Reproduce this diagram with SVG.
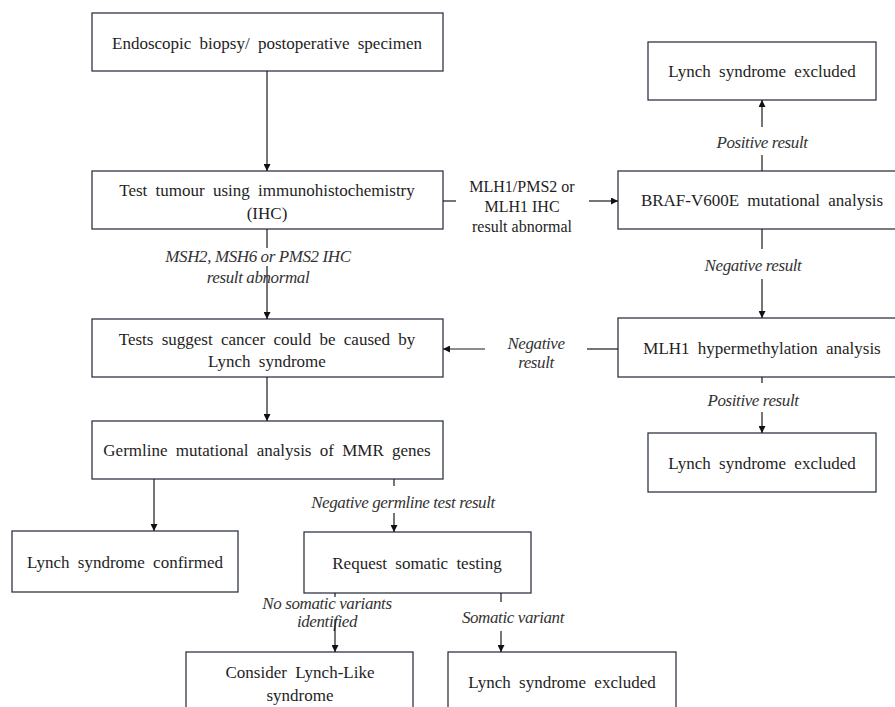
<svg xmlns="http://www.w3.org/2000/svg" width="895" height="707" viewBox="0 0 895 707">
<style>
.box{fill:#fff;stroke:#2e3645;stroke-width:1.3}
.t{font-family:'Liberation Serif','Tinos','DejaVu Serif','Noto Serif',serif;font-size:17px;fill:#1e1e1e;text-anchor:middle;word-spacing:4px}
.l{font-family:'Liberation Serif','Tinos','DejaVu Serif','Noto Serif',serif;font-size:16px;fill:#1e1e1e;text-anchor:middle}
.i{font-family:'Liberation Serif','Tinos','DejaVu Serif','Noto Serif',serif;font-size:17px;font-style:italic;fill:#333;text-anchor:middle;letter-spacing:-0.4px}
.c line{stroke:#1a1a1a;stroke-width:1.2}
</style>
<defs>
<marker id="ah" viewBox="0 0 10 10" refX="10" refY="5" markerWidth="7" markerHeight="7" markerUnits="userSpaceOnUse" orient="auto">
<path d="M0,0 L10,5 L0,10 z" fill="#111"/>
</marker>
</defs>
<rect width="895" height="707" fill="#fff"/>
<g id="n1"><rect class="box" x="92" y="13" width="351" height="58"/><text class="t" x="267" y="49">Endoscopic biopsy/ postoperative specimen</text></g>
<g id="n2"><rect class="box" x="92" y="171" width="351" height="58"/><text class="t" x="267" y="196">Test tumour using immunohistochemistry</text><text class="t" x="267" y="219">(IHC)</text></g>
<g id="n3"><rect class="box" x="92" y="319" width="351" height="58"/><text class="t" x="267" y="345">Tests suggest cancer could be caused by</text><text class="t" x="267" y="367">Lynch syndrome</text></g>
<g id="n4"><rect class="box" x="92" y="421" width="351" height="58"/><text class="t" x="267" y="456">Germline mutational analysis of MMR genes</text></g>
<g id="n5"><rect class="box" x="12" y="531" width="226" height="61"/><text class="t" x="125" y="568">Lynch syndrome confirmed</text></g>
<g id="n6"><rect class="box" x="304" y="532" width="227" height="61"/><text class="t" x="417" y="569">Request somatic testing</text></g>
<g id="n7"><rect class="box" x="186" y="652" width="227" height="60"/><text class="t" x="300" y="678">Consider Lynch-Like</text><text class="t" x="300" y="701">syndrome</text></g>
<g id="n8"><rect class="box" x="448" y="652" width="228" height="60"/><text class="t" x="562" y="688">Lynch syndrome excluded</text></g>
<g id="n9"><rect class="box" x="648" y="42" width="228" height="58"/><text class="t" x="762" y="77">Lynch syndrome excluded</text></g>
<g id="n10"><rect class="box" x="618" y="171" width="280" height="58"/><text class="t" x="762" y="206">BRAF-V600E mutational analysis</text></g>
<g id="n11"><rect class="box" x="618" y="318" width="280" height="59"/><text class="t" x="762" y="354">MLH1 hypermethylation analysis</text></g>
<g id="n12"><rect class="box" x="648" y="433" width="228" height="59"/><text class="t" x="762" y="469">Lynch syndrome excluded</text></g>
<g id="labels">
<text class="l" x="522" y="192">MLH1/PMS2 or</text>
<text class="l" x="522" y="212">MLH1 IHC</text>
<text class="l" x="522" y="232">result abnormal</text>
<text class="i" x="258" y="262">MSH2, MSH6 or PMS2 IHC</text>
<text class="i" x="258" y="283">result abnormal</text>
<text class="i" x="762" y="148">Positive result</text>
<text class="i" x="753" y="271">Negative result</text>
<text class="i" x="536" y="349">Negative</text>
<text class="i" x="536" y="368">result</text>
<text class="i" x="753" y="406">Positive result</text>
<text class="i" x="403" y="508">Negative germline test result</text>
<text class="i" x="327" y="609">No somatic variants</text>
<text class="i" x="327" y="627">identified</text>
<text class="i" x="513" y="623">Somatic variant</text>
</g>
<g id="connectors" class="c">
<line x1="267" y1="71" x2="267" y2="171" marker-end="url(#ah)"/>
<line x1="267" y1="229" x2="267" y2="248"/>
<line x1="267" y1="266" x2="267" y2="319" marker-end="url(#ah)"/>
<line x1="443" y1="201" x2="456" y2="201"/>
<line x1="589" y1="201" x2="618" y2="201" marker-end="url(#ah)"/>
<line x1="762" y1="171" x2="762" y2="155"/>
<line x1="762" y1="127" x2="762" y2="100" marker-end="url(#ah)"/>
<line x1="762" y1="229" x2="762" y2="249"/>
<line x1="762" y1="279" x2="762" y2="318" marker-end="url(#ah)"/>
<line x1="618" y1="349" x2="587" y2="349"/>
<line x1="485" y1="349" x2="443" y2="349" marker-end="url(#ah)"/>
<line x1="762" y1="377" x2="762" y2="383"/>
<line x1="762" y1="412" x2="762" y2="433" marker-end="url(#ah)"/>
<line x1="267" y1="377" x2="267" y2="421" marker-end="url(#ah)"/>
<line x1="154" y1="479" x2="154" y2="531" marker-end="url(#ah)"/>
<line x1="394" y1="479" x2="394" y2="486"/>
<line x1="394" y1="513" x2="394" y2="532" marker-end="url(#ah)"/>
<line x1="335" y1="593" x2="335" y2="597"/>
<line x1="335" y1="620" x2="335" y2="652" marker-end="url(#ah)"/>
<line x1="501" y1="593" x2="501" y2="602"/>
<line x1="501" y1="631" x2="501" y2="652" marker-end="url(#ah)"/>
</g>
</svg>
